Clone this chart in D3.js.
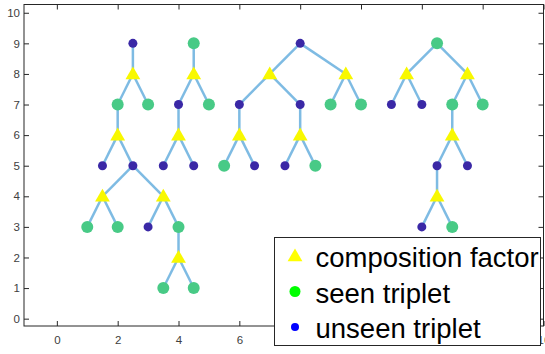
<!DOCTYPE html>
<html lang="en">
<head>
<meta charset="UTF-8">
<title>Composition trees</title>
<script src="https://d3js.org/d3.v7.min.js"></script>
<style>
  body { margin: 0; background: #fff; }
  svg { display: block; }
</style>
</head>
<body>
<script>
// composition factors (yellow triangles)
var factorX = [2.5, 2, 1.5, 3.5, 4, 4.5, 4, 7, 9.5, 6, 8, 11.5, 13.5, 13, 12.5];
var factorY = [8, 6, 4, 4, 2, 8, 6, 8, 8, 6, 6, 8, 8, 6, 4];

// seen triplets (green)
var seenX = [2, 3, 1, 2, 4, 3.5, 4.5, 4.5, 5, 9, 10, 5.5, 8.5, 12.5, 13, 14, 13];
var seenY = [7, 7, 3, 3, 3, 1, 1, 9, 7, 7, 7, 5, 5, 9, 7, 7, 3];

// unseen triplets (blue)
var unseenX = [2.5, 1.5, 2.5, 3, 4, 3.5, 4.5, 8, 6, 8, 6.5, 7.5, 11, 12, 12.5, 13.5, 12];
var unseenY = [9, 5, 5, 3, 7, 5, 5, 9, 7, 7, 5, 5, 7, 7, 5, 5, 3];

// tree edges: [x1, y1, x2, y2]
var edges = [
    [2.5, 9, 2.5, 8], [2.5, 8, 2, 7], [2.5, 8, 3, 7], [2, 7, 2, 6],
    [2, 6, 1.5, 5], [2, 6, 2.5, 5], [2.5, 5, 1.5, 4], [2.5, 5, 3.5, 4],
    [1.5, 4, 1, 3], [1.5, 4, 2, 3], [3.5, 4, 3, 3], [3.5, 4, 4, 3],
    [4, 3, 4, 2], [4, 2, 3.5, 1], [4, 2, 4.5, 1],
    [4.5, 9, 4.5, 8], [4.5, 8, 4, 7], [4.5, 8, 5, 7], [4, 7, 4, 6],
    [4, 6, 3.5, 5], [4, 6, 4.5, 5],
    [8, 9, 7, 8], [8, 9, 9.5, 8], [7, 8, 6, 7], [7, 8, 8, 7],
    [9.5, 8, 9, 7], [9.5, 8, 10, 7], [6, 7, 6, 6], [6, 6, 5.5, 5], [6, 6, 6.5, 5],
    [8, 7, 8, 6], [8, 6, 7.5, 5], [8, 6, 8.5, 5],
    [12.5, 9, 11.5, 8], [12.5, 9, 13.5, 8], [11.5, 8, 11, 7], [11.5, 8, 12, 7],
    [13.5, 8, 13, 7], [13.5, 8, 14, 7], [13, 7, 13, 6], [13, 6, 12.5, 5], [13, 6, 13.5, 5],
    [12.5, 5, 12.5, 4], [12.5, 4, 12, 3], [12.5, 4, 13, 3]
];

var xTicks = [0, 2, 4, 6, 8, 10, 12, 14, 16];
var yTicks = [0, 1, 2, 3, 4, 5, 6, 7, 8, 9, 10];
var legendLabels = ["composition factor", "seen triplet", "unseen triplet"];

var width = 545, height = 354;
var plotL = 24, plotR = 543.5, plotT = 4.5, plotB = 326;

var svg = d3.select("body").append("svg")
    .attr("width", width)
    .attr("height", height)
    .style("font-family", "'Liberation Sans', Arial, sans-serif");

svg.append("rect").attr("width", width).attr("height", height).attr("fill", "#fff");

var x = d3.scaleLinear().domain([-1.08, 16]).range([plotL, plotR]);
var y = d3.scaleLinear().domain([-0.24, 10.27]).range([plotB, plotT]);

// axes: ticks inside, mirrored on all four sides
var axisColor = "#262626";
function styleAxis(g) {
    g.select(".domain").remove();
    g.attr("font-size", 11.5).attr("font-family", "'Liberation Sans', Arial, sans-serif");
    g.selectAll(".tick line").attr("stroke", axisColor);
    g.selectAll(".tick text").attr("fill", "#404040");
}

svg.append("g")
    .attr("transform", "translate(0," + plotB + ")")
    .call(d3.axisBottom(x).tickValues(xTicks).tickSizeInner(-5).tickSizeOuter(0).tickPadding(10))
    .call(styleAxis);
svg.append("g")
    .attr("transform", "translate(0," + plotT + ")")
    .call(d3.axisTop(x).tickValues(xTicks).tickSizeInner(-5).tickSizeOuter(0).tickFormat(""))
    .call(styleAxis);
svg.append("g")
    .attr("transform", "translate(" + plotL + ",0)")
    .call(d3.axisLeft(y).tickValues(yTicks).tickSizeInner(-5).tickSizeOuter(0).tickPadding(4))
    .call(styleAxis);
svg.append("g")
    .attr("transform", "translate(" + plotR + ",0)")
    .call(d3.axisRight(y).tickValues(yTicks).tickSizeInner(-5).tickSizeOuter(0).tickFormat(""))
    .call(styleAxis);

// box
svg.append("rect")
    .attr("x", plotL).attr("y", plotT)
    .attr("width", plotR - plotL).attr("height", plotB - plotT)
    .attr("fill", "none").attr("stroke", axisColor).attr("stroke-width", 1);

// edges
svg.append("g").selectAll("line")
    .data(edges)
    .enter().append("line")
    .attr("x1", d => x(d[0])).attr("y1", d => y(d[1]))
    .attr("x2", d => x(d[2])).attr("y2", d => y(d[3]))
    .attr("stroke", "#7ebbe3")
    .attr("stroke-width", 2.5);

var tri = d3.symbol().type(d3.symbolTriangle).size(95);

// composition factor triangles
svg.append("g").selectAll("path")
    .data(factorX.map((v, i) => [v, factorY[i]]))
    .enter().append("path")
    .attr("d", tri)
    .attr("transform", d => "translate(" + x(d[0]) + "," + (y(d[1]) + 1) + ")")
    .attr("fill", "#f8f800");

// seen triplets
svg.append("g").selectAll("circle")
    .data(seenX.map((v, i) => [v, seenY[i]]))
    .enter().append("circle")
    .attr("cx", d => x(d[0])).attr("cy", d => y(d[1]))
    .attr("r", 6)
    .attr("fill", "#48ca86");

// unseen triplets
svg.append("g").selectAll("circle")
    .data(unseenX.map((v, i) => [v, unseenY[i]]))
    .enter().append("circle")
    .attr("cx", d => x(d[0])).attr("cy", d => y(d[1]))
    .attr("r", 4.5)
    .attr("fill", "#3a28a6");

// legend
var lg = svg.append("g");
lg.append("rect")
    .attr("x", 274.5).attr("y", 237.5)
    .attr("width", 266).attr("height", 108)
    .attr("fill", "#fff").attr("stroke", axisColor).attr("stroke-width", 1);

var rowY = [256, 291.5, 327];
lg.append("path").attr("d", tri)
    .attr("transform", "translate(295," + (rowY[0] + 1) + ")")
    .attr("fill", "#ffff00");
lg.append("circle").attr("cx", 295).attr("cy", rowY[1]).attr("r", 5.5).attr("fill", "#00ff00");
lg.append("circle").attr("cx", 295).attr("cy", rowY[2]).attr("r", 4).attr("fill", "#0000ff");

lg.selectAll("text")
    .data(legendLabels)
    .enter().append("text")
    .attr("x", 315.5)
    .attr("y", (d, i) => rowY[i] + 11)
    .attr("fill", "#000")
    .style("font-size", "27.5px")
    .text(d => d);
</script>
</body>
</html>
